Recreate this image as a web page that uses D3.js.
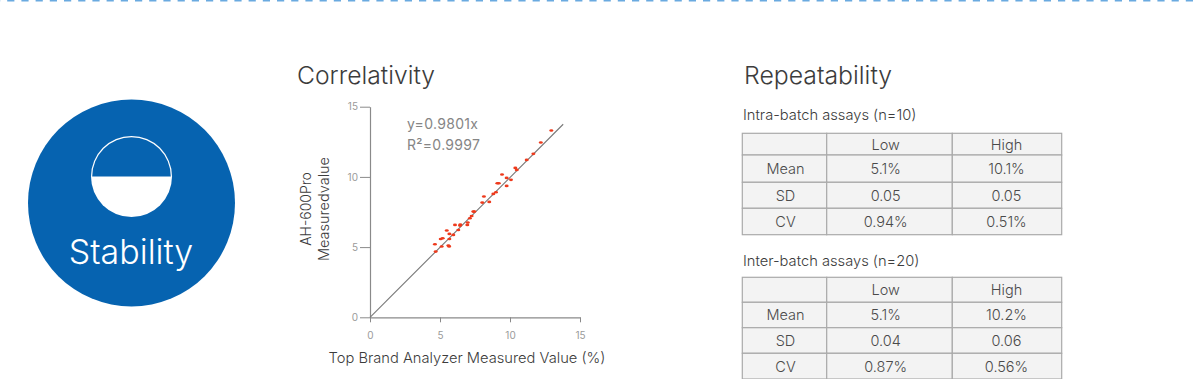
<!DOCTYPE html>
<html><head><meta charset="utf-8">
<script src="https://cdn.jsdelivr.net/npm/d3@7"></script>
<style>html,body{margin:0;padding:0;background:#fff}svg{display:block}text{font-family:Inter,"Noto Sans",sans-serif}</style>
</head><body><svg id="c" width="1200" height="379"></svg>
<script>
const measuredX=[12.95,12.2,11.67,11.19,10.38,10.48,9.76,10.07,9.43,9.1,9.2,9.76,9.0,8.81,8.14,8.52,8.02,7.38,7.45,7.26,7.14,6.98,6.95,6.43,6.45,6.07,6.31,5.95,5.67,5.48,5.67,5.19,5.05,5.6,5.65,4.64,5.12,4.69];
const measuredY=[13.3,12.45,11.64,11.21,10.64,10.5,9.93,9.79,10.17,9.55,9.55,9.36,8.91,8.79,8.6,8.22,8.17,7.53,7.53,7.22,7.05,6.75,6.58,6.53,6.6,6.58,6.22,5.87,5.94,6.18,5.58,5.63,5.58,5.11,5.05,5.2,5.04,4.68];
const fitLine=[[0,0],[13.8,13.75]];
const ticks=[0,5,10,15];
const tableCols=["","Low","High"];
const intraRows=[["Mean","5.1%","10.1%"],["SD","0.05","0.05"],["CV","0.94%","0.51%"]];
const interRows=[["Mean","5.1%","10.2%"],["SD","0.04","0.06"],["CV","0.87%","0.56%"]];

const svg=d3.select("#c");
const ink="#3c3c3c";
svg.append("line").attr("x1",-7).attr("x2",1200).attr("y1",0.5).attr("y2",0.5)
 .attr("stroke","#6aaae0").attr("stroke-width",2).attr("stroke-dasharray","7.2 7");
svg.append("circle").attr("cx",131.5).attr("cy",203).attr("r",103.5).attr("fill","#0663b0");
svg.append("circle").attr("cx",131.5).attr("cy",176.5).attr("r",40.5).attr("fill","#fff");
svg.append("path").attr("d",d3.arc()({innerRadius:0,outerRadius:39.3,startAngle:-Math.PI/2,endAngle:Math.PI/2})).attr("transform","translate(131.5,176.5)").attr("fill","#0663b0");
svg.append("text").attr("x",131).attr("y",264).attr("text-anchor","middle").attr("font-size",34).attr("font-weight",300).attr("fill","#fff").text("Stability");
svg.append("text").attr("x",297).attr("y",84).attr("font-size",24.7).attr("font-weight",300).attr("fill",ink).text("Correlativity");
svg.append("text").attr("x",744).attr("y",84).attr("font-size",24.8).attr("font-weight",300).attr("fill",ink).text("Repeatability");
const x=d3.scaleLinear().domain([0,15]).range([370,580]);
const y=d3.scaleLinear().domain([0,15]).range([317.3,106.7]);
const gx=svg.append("g").attr("transform","translate(0,317.3)").call(d3.axisBottom(x).tickValues(ticks).tickSizeOuter(0));
const gy=svg.append("g").attr("transform","translate(370,0)").call(d3.axisLeft(y).tickValues(ticks).tickSizeOuter(0));
[gx,gy].forEach(g=>{g.selectAll("line").attr("stroke","#8a8a8a").attr("stroke-width",1);g.select(".domain").attr("stroke","#8a8a8a").attr("stroke-width",1.2);g.selectAll("text").attr("font-size",10).attr("font-family","Liberation Sans").attr("fill","#9a9a9a")});
gy.selectAll(".tick line").attr("x1",0).attr("x2",-10);
gy.selectAll(".tick text").attr("x",-12);
gx.selectAll(".tick line").attr("y1",0).attr("y2",5);
gx.selectAll(".tick text").attr("y",15);
svg.append("path").attr("d",d3.line().x(d=>x(d[0])).y(d=>y(d[1]))(fitLine)).attr("stroke","#777").attr("stroke-width",1.1).attr("fill","none");
svg.append("g").selectAll("ellipse").data(measuredX).join("ellipse")
 .attr("cx",d=>x(d)).attr("cy",(d,i)=>y(measuredY[i])).attr("rx",2).attr("ry",1.3).attr("fill","#ee3a1c");
const fitText=[["y=0.9801x",129],["R²=0.9997",149.5]];
fitText.forEach(t=>svg.append("text").attr("x",407).attr("y",t[1]).attr("font-family","Liberation Sans").attr("font-size",14).attr("fill","#858585").attr("letter-spacing",.3).text(t[0]));
svg.append("text").attr("transform","translate(310.7,209) rotate(-90)").attr("text-anchor","middle").attr("font-size",14).attr("font-weight",300).attr("fill",ink).text("AH-600Pro");
svg.append("text").attr("transform","translate(329,209) rotate(-90)").attr("text-anchor","middle").attr("font-size",14.5).attr("font-weight",300).attr("fill",ink).text("Measuredvalue");
svg.append("text").attr("x",467).attr("y",363).attr("text-anchor","middle").attr("font-size",14.7).attr("font-weight",300).attr("fill",ink).text("Top Brand Analyzer Measured Value (%)");
const colEdges=[742.3,826.7,952.3,1061.7];
const colCenters=[785.5,885.7,1006.5];
function table(title,titleY,rows,rowEdges){
 svg.append("text").attr("x",743).attr("y",titleY).attr("font-size",14.7).attr("font-weight",300).attr("fill",ink).text(title);
 const all=[tableCols,...rows];
 const g=svg.append("g");
 all.forEach((r,i)=>r.forEach((c,j)=>{
  g.append("rect").attr("x",colEdges[j]).attr("y",rowEdges[i]).attr("width",colEdges[j+1]-colEdges[j]).attr("height",rowEdges[i+1]-rowEdges[i]).attr("fill","#f3f3f3").attr("stroke","#aaa").attr("stroke-width",1.2);
  g.append("text").attr("x",colCenters[j]).attr("y",(rowEdges[i]+rowEdges[i+1])/2+5.4).attr("text-anchor","middle").attr("font-size",14.5).attr("font-weight",300).attr("fill","#4a4a4a").text(c);
 }));
}
table("Intra-batch assays (n=10)",120,intraRows,[133.3,155,182.3,208.3,234.7]);
table("Inter-batch assays (n=20)",265.5,interRows,[277.3,302.3,327.7,353.3,379]);
</script></body></html>
